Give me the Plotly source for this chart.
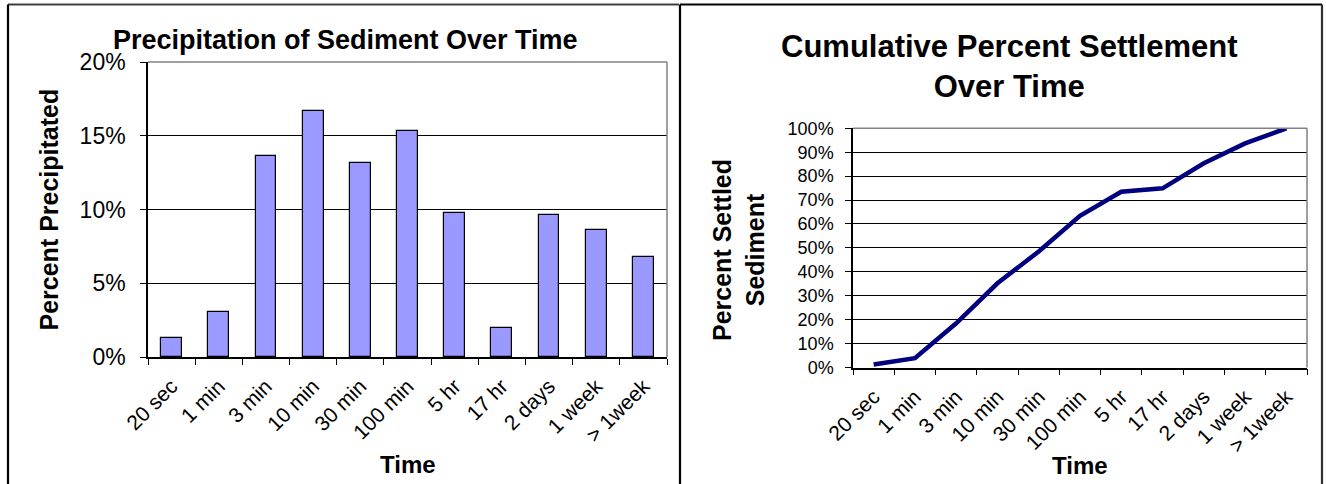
import plotly.graph_objects as go

# Settling-test results: share of sediment collected in each time interval
categories = ["20 sec", "1 min", "3 min", "10 min", "30 min", "100 min",
              "5 hr", "17 hr", "2 days", "1 week", "> 1week"]
percent_precipitated = [1.3, 3.05, 13.6, 16.7, 13.15, 15.3, 9.75, 1.95, 9.65, 8.6, 6.75]
cumulative_settled = [1.25, 3.9, 18.5, 35.2, 48.5, 63.4, 73.5, 74.9, 85.4, 93.7, 100.0]

left_yticks = [0, 5, 10, 15, 20]
left_yticklabels = ["0%", "5%", "10%", "15%", "20%"]
right_yticks = [0, 10, 20, 30, 40, 50, 60, 70, 80, 90, 100]
right_yticklabels = ["0%", "10%", "20%", "30%", "40%", "50%",
                     "60%", "70%", "80%", "90%", "100%"]

W, H = 1326, 484
FONT = "Liberation Sans"


def px_x(v):
    return v / W


def px_y(v):
    return 1 - v / H


fig = go.Figure()

fig.add_trace(go.Bar(
    x=categories, y=percent_precipitated, xaxis="x", yaxis="y",
    width=0.44, marker=dict(color="#9999FF", line=dict(color="black", width=1.2)),
    showlegend=False, hoverinfo="x+y",
))

fig.add_trace(go.Scatter(
    x=categories, y=cumulative_settled, xaxis="x2", yaxis="y2",
    mode="lines", line=dict(color="#000080", width=4.5),
    showlegend=False,
))

# plot-area positions in pixels
L1, R1, T1, B1 = 148, 667, 62, 357
L2, R2, T2, B2 = 853, 1307, 128.3, 367.5

common_x = dict(
    type="category", tickson="boundaries", ticks="outside", ticklen=6,
    tickcolor="black", tickwidth=1, showline=True, linecolor="black",
    linewidth=1.5, showgrid=False, zeroline=False, tickangle=-45,
    range=[-0.5, len(categories) - 0.5], fixedrange=True, automargin=False,
    ticklabelstandoff=7,
)
common_y = dict(
    ticks="outside", ticklen=6, tickcolor="black", tickwidth=1,
    showline=True, linecolor="black", linewidth=1.5, showgrid=True,
    gridcolor="black", gridwidth=1, zeroline=False,
    fixedrange=True, automargin=False,
)

fig.update_layout(
    template="none",
    width=W, height=H, margin=dict(l=0, r=0, t=0, b=0, pad=0, autoexpand=False),
    paper_bgcolor="white", plot_bgcolor="white",
    font=dict(family=FONT, color="black"),
    xaxis=dict(domain=[px_x(L1), px_x(R1)], anchor="y",
               tickfont=dict(size=21, family=FONT), **common_x),
    yaxis=dict(domain=[px_y(B1), px_y(T1)], anchor="x", range=[0, 20],
               tickvals=left_yticks, ticktext=left_yticklabels,
               tickfont=dict(size=23, family=FONT),
               ticklabelstandoff=10, **common_y),
    xaxis2=dict(domain=[px_x(L2), px_x(R2)], anchor="y2",
                tickfont=dict(size=21, family=FONT), **common_x),
    yaxis2=dict(domain=[px_y(B2), px_y(T2)], anchor="x2", range=[0, 100],
                tickvals=right_yticks, ticktext=right_yticklabels,
                tickfont=dict(size=18, family=FONT),
                ticklabelstandoff=8, **common_y),
    bargap=0,
)

shapes = []
# gray top/right borders of each plot area
for (l, r, t, b) in [(L1, R1, T1, B1), (L2, R2, T2, B2)]:
    shapes.append(dict(type="line", xref="paper", yref="paper",
                       x0=px_x(l), x1=px_x(r), y0=px_y(t), y1=px_y(t),
                       line=dict(color="#808080", width=1.5)))
    shapes.append(dict(type="line", xref="paper", yref="paper",
                       x0=px_x(r), x1=px_x(r), y0=px_y(t), y1=px_y(b),
                       line=dict(color="#808080", width=1.5)))

# chart frames
frame = [
    (8, 4.5, 679, 4.5, "#404040"),
    (8, 4.5, 8, 490, "black"),
    (680, 4.5, 1322, 4.5, "black"),
    (680, 4.5, 680, 490, "black"),
    (1322, 4.5, 1322, 490, "#303030"),
]
for x0, y0, x1, y1, c in frame:
    shapes.append(dict(type="line", xref="paper", yref="paper",
                       x0=px_x(x0), x1=px_x(x1), y0=px_y(y0), y1=px_y(y1),
                       line=dict(color=c, width=2.2)))
fig.update_layout(shapes=shapes)

ann = []
ann.append(dict(text="<b>Precipitation of Sediment Over Time</b>",
                x=px_x(345), y=px_y(40), font=dict(size=27, family=FONT)))
ann.append(dict(text="<b>Cumulative Percent Settlement</b><br><b>Over Time</b>",
                x=px_x(1009), y=px_y(66), font=dict(size=31, family=FONT)))
ann.append(dict(text="<b>Percent Precipitated</b>", textangle=-90,
                x=px_x(48), y=px_y((T1 + B1) / 2), font=dict(size=25, family=FONT)))
ann.append(dict(text="<b>Percent Settled</b><br><b>Sediment</b>", textangle=-90,
                x=px_x(739), y=px_y(250), font=dict(size=25, family=FONT)))
ann.append(dict(text="<b>Time</b>", x=px_x((L1 + R1) / 2), y=px_y(464),
                font=dict(size=24, family=FONT)))
ann.append(dict(text="<b>Time</b>", x=px_x((L2 + R2) / 2), y=px_y(465),
                font=dict(size=24, family=FONT)))
for a in ann:
    a.update(xref="paper", yref="paper", showarrow=False,
             xanchor="center", yanchor="middle")
fig.update_layout(annotations=ann)

fig.write_html("out.html")
